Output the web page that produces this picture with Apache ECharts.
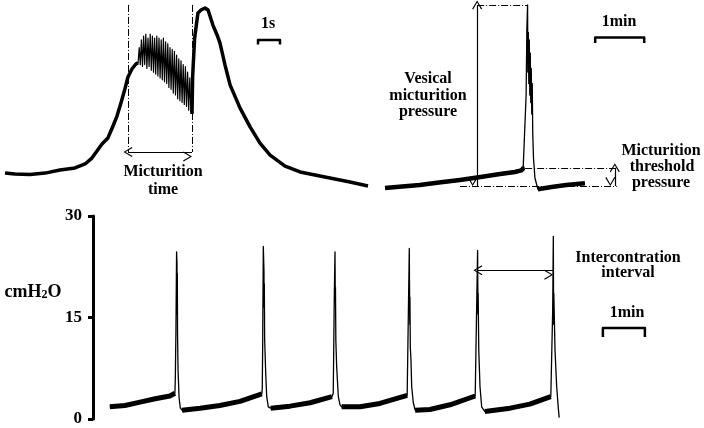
<!DOCTYPE html>
<html>
<head>
<meta charset="utf-8">
<script src="https://cdn.jsdelivr.net/npm/echarts@6/dist/echarts.min.js"></script>
<style>
  html, body { margin: 0; padding: 0; background: #fff; }
  #chart { width: 704px; height: 428px; }
</style>
</head>
<body>
<div id="chart"></div>
<script>
// ---- top left: single micturition, time in s, pressure in arbitrary units (0-100)
const leftRise = [[0, 8.9], [0.45, 8.4], [1.14, 8.2], [1.82, 8.9], [2.5, 10.5], [3.18, 11.6], [3.64, 13.7],
  [3.95, 16.8], [4.18, 20.5], [4.41, 24.2], [4.68, 27.4], [4.91, 33.7], [5.09, 38.9], [5.27, 45.8],
  [5.45, 53.2], [5.59, 59.5], [5.77, 63.7], [5.95, 66.3], [6.05, 67]];
const leftBurst = [[6.10, 75], [6.15, 66], [6.20, 79], [6.25, 65], [6.30, 81], [6.35, 66], [6.40, 82],
  [6.45, 64], [6.50, 80], [6.55, 65], [6.60, 82], [6.65, 63], [6.70, 81], [6.75, 62], [6.80, 80],
  [6.85, 61], [6.90, 81], [6.95, 60], [7.00, 80], [7.05, 59], [7.10, 79], [7.15, 58], [7.20, 80],
  [7.25, 57], [7.30, 78], [7.35, 56], [7.40, 77], [7.45, 54], [7.50, 75], [7.55, 53], [7.60, 74],
  [7.65, 51], [7.70, 73], [7.75, 50], [7.80, 71], [7.85, 48], [7.90, 69], [7.95, 47], [8.00, 68],
  [8.05, 46], [8.10, 66], [8.15, 45], [8.20, 65], [8.25, 44], [8.30, 62], [8.35, 42], [8.40, 59],
  [8.45, 41]];
const leftFall = [[8.50, 40], [8.53, 60], [8.62, 80], [8.77, 93.2], [8.91, 94.7], [9.09, 95.8],
  [9.23, 94.7], [9.32, 93.7], [9.45, 86.8], [9.64, 81.6], [9.77, 77.4], [10.0, 65.8], [10.23, 55.3],
  [10.68, 43.2], [11.14, 33.2], [11.59, 24.7], [12.05, 18.4], [12.73, 12.6], [13.41, 9.5],
  [14.09, 7.9], [14.77, 6.3], [15.68, 4.2], [16.5, 2.1]];
const micturitionTime = [5.59, 8.5];   // s, start / end of voiding
const micturitionArrowLevel = 20;
const scaleBar1s = [11.5, 12.5];

// ---- top right: one cycle, time in min
const rightBase = [[0, 1.1], [0.35, 1.9], [0.71, 2.6], [1.10, 3.9], [1.53, 5.3], [1.95, 6.8],
  [2.35, 8.4], [2.65, 9.5], [2.78, 10.3], [2.82, 11.4], [2.85, 11.6]];
const rightSpike = [[2.88, 50], [2.895, 85], [2.91, 97.4], [2.915, 62], [2.925, 83], [2.935, 56],
  [2.945, 79], [2.955, 50], [2.965, 72], [2.975, 46], [2.985, 64], [2.995, 40], [3.005, 56],
  [3.015, 30], [3.03, 17], [3.06, 6.3], [3.12, 0.4]];
const rightTail = [[3.12, 0.4], [3.16, 0.8], [3.4, 1.6], [3.7, 2.6], [4.08, 3.5]];
const peakPressure = 97.4;
const thresholdPressure = 11.7;
const basePressure = 2.1;
const vesicalArrowTime = 1.88;
const thresholdArrowTime = 4.69;
const scaleBarRight1min = [4.29, 5.29];

// ---- bottom: cystometrogram, time in min, cmH2O
const yTicks = [0, 15, 30];
const bottomBase = [
  [[0.40, 1.8], [0.76, 2.0], [1.12, 2.5], [1.48, 3.0], [1.83, 3.4], [1.95, 3.8]],
  [[2.12, 1.3], [2.55, 1.6], [3.02, 2.0], [3.50, 2.6], [4.02, 3.7]],
  [[4.23, 1.6], [4.69, 1.9], [5.17, 2.4], [5.69, 3.3]],
  [[5.92, 1.8], [6.36, 1.8], [6.83, 2.3], [7.48, 3.5]],
  [[7.67, 1.3], [8.02, 1.4], [8.50, 2.1], [9.10, 3.4]],
  [[9.33, 1.1], [9.93, 1.6], [10.40, 2.2], [10.90, 3.3]]
];
const bottomSpikes = [
  [[1.96, 6.0], [1.975, 13.2], [1.99, 24.7], [2.0, 23.0], [2.004, 15.5], [2.008, 21.5], [2.013, 12.5], [2.025, 7.2], [2.05, 3.1], [2.08, 1.6]],
  [[4.03, 4.5], [4.04, 11.0], [4.055, 25.5], [4.071, 21.8], [4.075, 16.5], [4.079, 20.0], [4.087, 11.7], [4.112, 6.8], [4.136, 3.3], [4.174, 1.8]],
  [[5.72, 3.8], [5.745, 18.1], [5.762, 24.7], [5.769, 17.5], [5.773, 19.5], [5.782, 11.6], [5.802, 7.7], [5.841, 3.3], [5.881, 2.1]],
  [[7.507, 3.6], [7.531, 25.2], [7.536, 20.0], [7.542, 14.0], [7.546, 18.0], [7.555, 10.6], [7.571, 8.7], [7.588, 4.8], [7.626, 2.4]],
  [[9.133, 3.5], [9.157, 24.9], [9.166, 15.5], [9.170, 18.6], [9.185, 10.2], [9.214, 4.8], [9.254, 1.8]],
  [[10.92, 3.3], [10.945, 16.1], [10.96, 27.0], [10.968, 14.0], [10.972, 18.6], [11.0, 10.2], [11.04, 4.8], [11.08, 1.5], [11.1, 0.2]]
];
const intervalArrow = [9.165, 10.955];
const intervalArrowLevel = 22;
const scaleBarBottom1min = [12.14, 13.14];

// ---- helpers
const serif = 'Liberation Serif';
const chevron = 'path://M0,10 L5,0 L10,10 L9,10.8 L5,2.4 L1,10.8 Z';

function joinSegments(segs) {
  const out = [];
  segs.forEach((s, i) => { if (i) out.push(null); out.push(...s); });
  return out;
}
function scaleBar(x, top, tickEnd) {
  return [[x[0], tickEnd], [x[0], top], [x[1], top], [x[1], tickEnd]];
}
function trace(idx, data, width, z) {
  return {
    type: 'line', xAxisIndex: idx, yAxisIndex: idx, data: data,
    symbol: 'none', silent: true, connectNulls: false, z: z || 2,
    lineStyle: { color: '#000', width: width, join: 'round' }
  };
}
function marks(idx, lines, style, sym) {
  return {
    type: 'line', xAxisIndex: idx, yAxisIndex: idx, data: [], symbol: 'none', silent: true,
    markLine: {
      silent: true, animation: false,
      symbol: sym ? [chevron, chevron] : ['none', 'none'],
      symbolSize: [10, 9], symbolOffset: [0, 4.5],
      label: { show: false }, emphasis: { disabled: true },
      lineStyle: Object.assign({ color: '#000', width: 1, opacity: 1, type: 'solid' }, style),
      data: lines.map(l => [{ coord: l[0] }, { coord: l[1] }])
    }
  };
}
const dashDot = { type: [7, 2, 1, 2], width: 1 };

const bottomFull = [];
bottomBase.forEach((b, i) => { bottomFull.push(...b); if (bottomSpikes[i]) bottomFull.push(...bottomSpikes[i]); });

function label(text, x, y, size) {
  return {
    type: 'text', x: x, y: y, silent: true,
    style: { text: text, fill: '#000', font: 'bold ' + (size || 16) + 'px "' + serif + '"',
      textAlign: 'center', textVerticalAlign: 'middle' }
  };
}

const chart = echarts.init(document.getElementById('chart'));
chart.setOption({
  animation: false,
  backgroundColor: '#fff',
  grid: [
    { left: 5, top: 0, width: 374, height: 190 },
    { left: 385, top: 0, width: 294, height: 190 },
    { left: 93, top: 216, width: 588, height: 203 }
  ],
  xAxis: [
    { gridIndex: 0, type: 'value', min: 0, max: 17, show: false },
    { gridIndex: 1, type: 'value', min: 0, max: 6, show: false },
    { gridIndex: 2, type: 'value', min: 0, max: 14, show: false }
  ],
  yAxis: [
    { gridIndex: 0, type: 'value', min: 0, max: 100, show: false },
    { gridIndex: 1, type: 'value', min: 0, max: 100, show: false },
    {
      gridIndex: 2, type: 'value', min: yTicks[0], max: yTicks[2], interval: yTicks[1] - yTicks[0],
      axisLine: { show: true, lineStyle: { color: '#000', width: 3 } },
      axisTick: { show: true, length: 5, lineStyle: { color: '#000', width: 3 } },
      axisLabel: { color: '#000', fontFamily: serif, fontWeight: 'bold', fontSize: 17, margin: 11 },
      splitLine: { show: false }
    }
  ],
  graphic: [
    label('Micturition', 163, 172), label('time', 163, 190), label('1s', 268, 24),
    label('Vesical', 428, 79), label('micturition', 428, 96), label('pressure', 428, 112),
    label('1min', 619, 22),
    label('Micturition', 661, 151), label('threshold', 662, 167), label('pressure', 661, 183),
    label('Intercontration', 628, 258), label('interval', 628, 273), label('1min', 627, 313),
    {
      type: 'text', x: 33, y: 291, silent: true,
      style: {
        text: '{a|cmH}{b|2}{a|O}', textAlign: 'center', textVerticalAlign: 'middle',
        rich: {
          a: { fill: '#000', fontFamily: serif, fontWeight: 'bold', fontSize: 18, lineHeight: 20, verticalAlign: 'bottom' },
          b: { fill: '#000', fontFamily: serif, fontWeight: 'bold', fontSize: 12, lineHeight: 12, verticalAlign: 'bottom' }
        }
      }
    }
  ],
  series: [
    // top left
    trace(0, leftRise.concat(leftBurst, leftFall), 1.2),
    trace(0, leftRise.concat([null], leftFall), 3.5, 3),
    trace(0, scaleBar(scaleBar1s, 78.9, 76.6), 2.5),
    marks(0, [
      [[micturitionTime[0], 97.4], [micturitionTime[0], micturitionArrowLevel]],
      [[micturitionTime[1], 97.4], [micturitionTime[1], micturitionArrowLevel]]
    ], dashDot, false),
    marks(0, [[[micturitionTime[0], micturitionArrowLevel], [micturitionTime[1], micturitionArrowLevel]]], { width: 1.2 }, true),
    // top right
    trace(1, rightBase.concat(rightSpike, rightTail), 1.3),
    trace(1, rightBase.concat([null], rightTail), 4.5, 3),
    trace(1, scaleBar(scaleBarRight1min, 80.3, 77.4), 2.5),
    marks(1, [
      [[vesicalArrowTime, peakPressure], [2.91, peakPressure]],
      [[1.53, basePressure], [4.73, basePressure]],
      [[2.86, thresholdPressure], [4.73, thresholdPressure]]
    ], dashDot, false),
    marks(1, [
      [[vesicalArrowTime, peakPressure], [vesicalArrowTime, basePressure]],
      [[thresholdArrowTime, thresholdPressure], [thresholdArrowTime, basePressure]]
    ], { width: 1.2 }, true),
    // bottom
    trace(2, bottomFull, 1.3),
    trace(2, joinSegments(bottomBase), 5, 3),
    trace(2, scaleBar(scaleBarBottom1min, 13.45, 12.1), 2.5),
    marks(2, [[[intervalArrow[0], intervalArrowLevel], [intervalArrow[1], intervalArrowLevel]]], { width: 1.2 }, true)
  ]
});
</script>
</body>
</html>
